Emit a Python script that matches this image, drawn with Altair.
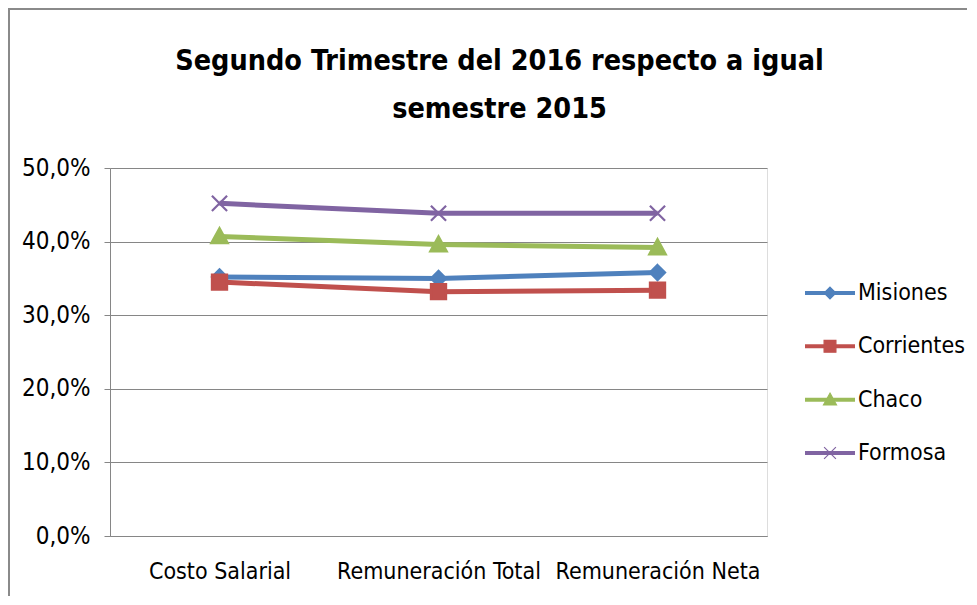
import altair as alt
import pandas as pd

categories = ["Costo Salarial", "Remuneración Total", "Remuneración Neta"]
series = ["Misiones", "Corrientes", "Chaco", "Formosa"]
misiones = [0.352, 0.350, 0.358]
corrientes = [0.345, 0.332, 0.334]
chaco = [0.407, 0.396, 0.392]
formosa = [0.452, 0.4385, 0.4385]
colors = ["#4F81BD", "#C0504D", "#9BBB59", "#8064A2"]
title_lines = ["Segundo Trimestre del 2016 respecto a igual", "semestre 2015"]

values = {"Misiones": misiones, "Corrientes": corrientes, "Chaco": chaco, "Formosa": formosa}
rows = []
for si, s in enumerate(series):
    for ci, c in enumerate(categories):
        rows.append({"serie": s, "cat": c, "val": values[s][ci], "order": si})
df = pd.DataFrame(rows)
leg_df = pd.DataFrame({"serie": series, "order": list(range(len(series)))})

FONT = "Liberation Sans Narrow, DejaVu Sans Condensed, sans-serif"

marker_paths = [
    "M0,-1L1,0L0,1L-1,0Z",          # diamond
    "M-1,-1H1V1H-1Z",               # square
    "M0,-1.1L1.1,0.9H-1.1Z",        # triangle
    "M-1,-1L1,1M-1,1L1,-1",         # x
]

color_scale = alt.Scale(domain=series, range=colors)
shape_scale = alt.Scale(domain=series, range=marker_paths)

x_enc = alt.X(
    "cat:N", sort=categories, title=None,
    scale=alt.Scale(padding=0.5),
    axis=alt.Axis(labelAngle=0, ticks=False, domainColor="#868686", domainWidth=1,
                  labelFontSize=23, labelFont=FONT, labelColor="#000000", labelPadding=24,
                  labelLimit=400, grid=False),
)
y_scale = alt.Scale(domain=[0, 0.5], nice=False)
y_enc = alt.Y(
    "val:Q", title=None, scale=y_scale,
    axis=alt.Axis(values=[0, 0.1, 0.2, 0.3, 0.4, 0.5],
                  labelExpr="replace(format(datum.value, '.1%'), '.', ',')",
                  labelFontSize=24, labelFont=FONT, labelColor="#000000",
                  tickColor="#868686", tickSize=6, domainColor="#868686",
                  gridColor="#868686", gridWidth=1, labelPadding=14),
)

lines = alt.Chart(df).mark_line(strokeWidth=5).encode(
    x=x_enc, y=y_enc,
    color=alt.Color("serie:N", scale=color_scale, legend=None),
    detail="serie:N",
)

points = alt.Chart(df).mark_point(filled=True, size=230, strokeWidth=2.2, opacity=1).encode(
    x=x_enc, y=y_enc,
    color=alt.Color("serie:N", scale=color_scale, legend=None),
    stroke=alt.Stroke("serie:N", scale=color_scale, legend=None),
    shape=alt.Shape("serie:N", scale=shape_scale, legend=None),
)

plot = alt.layer(lines, points)

# manual legend (line + marker + label)
leg_y = alt.Y("serie:N", sort=series, axis=None,
              scale=alt.Scale(type="point", domain=series, range=[125, 285], padding=0))
leg_rule = alt.Chart(leg_df).mark_rule(strokeWidth=4).encode(
    x=alt.value(695), x2=alt.value(745), y=leg_y,
    color=alt.Color("serie:N", scale=color_scale, legend=None),
)
leg_pt = alt.Chart(leg_df).mark_point(filled=True, size=140, strokeWidth=1.2, opacity=1).encode(
    x=alt.value(720), y=leg_y,
    color=alt.Color("serie:N", scale=color_scale, legend=None),
    stroke=alt.Stroke("serie:N", scale=color_scale, legend=None),
    shape=alt.Shape("serie:N", scale=shape_scale, legend=None),
)
leg_txt = alt.Chart(leg_df).mark_text(align="left", baseline="middle", fontSize=23,
                                      font=FONT, color="#000000").encode(
    x=alt.value(748), y=leg_y, text="serie:N",
)
legend_layer = alt.layer(leg_rule, leg_pt, leg_txt)

frame_left = alt.Chart(leg_df).mark_rule(color="#8a8a8a", strokeWidth=2).encode(
    x=alt.value(-101), y=alt.value(-160), y2=alt.value(430))
frame_top = alt.Chart(leg_df).mark_rule(color="#8a8a8a", strokeWidth=2).encode(
    x=alt.value(-101), x2=alt.value(860), y=alt.value(-159))

chart = alt.layer(frame_left, frame_top, plot, legend_layer).resolve_scale(
    y="independent"
).properties(
    width=657, height=368,
    padding={"left": 102, "top": 160, "right": 200, "bottom": 60},
    autosize=alt.AutoSizeParams(type="none"),
    title=alt.TitleParams(text=title_lines, fontSize=28.5, fontWeight="bold", font=FONT,
                          anchor="middle", frame="group", dx=61, dy=116, offset=0,
                          lineHeight=48, color="#000000"),
).configure_view(stroke=None).configure(background="white")

chart.save("out.html", embed_options={"renderer": "svg", "actions": False})
